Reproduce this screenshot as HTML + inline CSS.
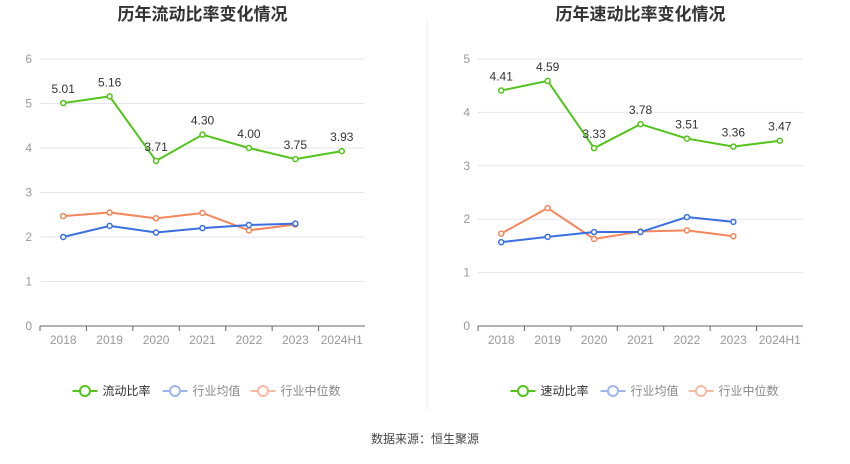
<!DOCTYPE html>
<html><head><meta charset="utf-8">
<style>
body{margin:0;background:#fff;font-family:"Liberation Sans","Noto Sans CJK SC",sans-serif;}
svg text{font-family:"Liberation Sans","Noto Sans CJK SC",sans-serif;}
</style></head>
<body>
<svg id="c" width="850" height="459" xmlns="http://www.w3.org/2000/svg">
<line x1="427" y1="20" x2="427" y2="410" stroke="#eee"/>
<text x="425" y="443" text-anchor="middle" font-size="12" fill="#444">数据来源：恒生聚源</text>
</svg>
<script>
const categories=["2018","2019","2020","2021","2022","2023","2024H1"];
const currentRatio=[5.01,5.16,3.71,4.30,4.00,3.75,3.93];
const currentAvg=[2.0,2.25,2.1,2.2,2.27,2.3];
const currentMedian=[2.47,2.55,2.42,2.54,2.15,2.28];
const currentTicks=[0,1,2,3,4,5,6];
const quickRatio=[4.41,4.59,3.33,3.78,3.51,3.36,3.47];
const quickAvg=[1.57,1.67,1.76,1.76,2.04,1.95];
const quickMedian=[1.73,2.21,1.63,1.77,1.79,1.68];
const quickTicks=[0,1,2,3,4,5];

const svg=document.getElementById('c');
const NS='http://www.w3.org/2000/svg';
function mk(tag,attrs,parent){const e=document.createElementNS(NS,tag);for(const k in attrs)e.setAttribute(k,attrs[k]);(parent||svg).appendChild(e);return e;}

function drawChart(id,title,x0,x1,ticks,main,avg,med,mainName){
  const g=mk('g',{});
  
  
  const yTop=59,yBot=326,maxV=ticks[ticks.length-1];
  const ys=v=>yBot-(v/maxV)*(yBot-yTop);
  const step=(x1-x0)/categories.length;
  const xs=i=>x0+step*(i+0.5);
  const t=mk('text',{x:(x0+x1)/2,y:20,'text-anchor':'middle','font-size':17,'font-weight':'bold',fill:'#333'},g);
  t.textContent=title;
  
  
  ticks.forEach(v=>{
    if(v>0){const l=mk('line',{x1:x0,x2:x1,y1:ys(v),y2:ys(v),stroke:'#e6e6ee'},g);
    
    }
    const tx=mk('text',{x:x0-8,y:ys(v)+4,'text-anchor':'end','font-size':12,fill:'#999'},g);
    tx.textContent=v;
    
    
  });
  const ax=mk('line',{x1:x0,x2:x1,y1:yBot,y2:yBot,stroke:'#666'},g);
  
  
  categories.forEach((c,i)=>{
    const tk=mk('line',{x1:x0+step*i,x2:x0+step*i,y1:yBot,y2:yBot+5,stroke:'#666'},g);
    
    
    const tx=mk('text',{x:xs(i),y:yBot+18,'text-anchor':'middle','font-size':12,fill:'#999'},g);
    tx.textContent=c;
    
    
  });
  function series(vals,color,name,labels){
    const p=mk('polyline',{points:vals.map((v,i)=>xs(i)+','+ys(v)).join(' '),fill:'none',stroke:color,'stroke-width':2},g);
    
    
    vals.forEach((v,i)=>{
      const c=mk('circle',{cx:xs(i),cy:ys(v),r:2.5,fill:'#fff',stroke:color,'stroke-width':1.5},g);
      
      
      if(labels){const tx=mk('text',{x:xs(i),y:ys(v)-10,'text-anchor':'middle','font-size':12,fill:'#333'},g);
      tx.textContent=v.toFixed(2);
      
      }
    });
  }
  series(med,'#f5855a','industry-median',false);
  series(avg,'#3a6fe0','industry-average',false);
  series(main,'#52c41a',mainName,true);
  const legend=[[mainName==='current-ratio'?'流动比率':'速动比率','#52c41a',1],['行业均值','#9db5ef',0],['行业中位数','#f9baa3',0]];
  let lx=(x0+x1)/2-130;
  const widths=[90,88,100];
  legend.forEach((L,i)=>{
    const lg=mk('g',{},g);
    
    
    mk('line',{x1:lx,x2:lx+25,y1:391,y2:391,stroke:L[1],'stroke-width':2},lg);
    mk('circle',{cx:lx+12.5,cy:391,r:5,fill:'#fff',stroke:L[1],'stroke-width':2},lg);
    const tx=mk('text',{x:lx+30,y:395,'font-size':12,fill:L[2]?'#333':'#888'},lg);
    tx.textContent=L[0];
    lx+=widths[i];
  });
}
drawChart('current-ratio-chart','历年流动比率变化情况',40,365,currentTicks,currentRatio,currentAvg,currentMedian,'current-ratio');
drawChart('quick-ratio-chart','历年速动比率变化情况',478,803,quickTicks,quickRatio,quickAvg,quickMedian,'quick-ratio');
</script>
</body></html>
